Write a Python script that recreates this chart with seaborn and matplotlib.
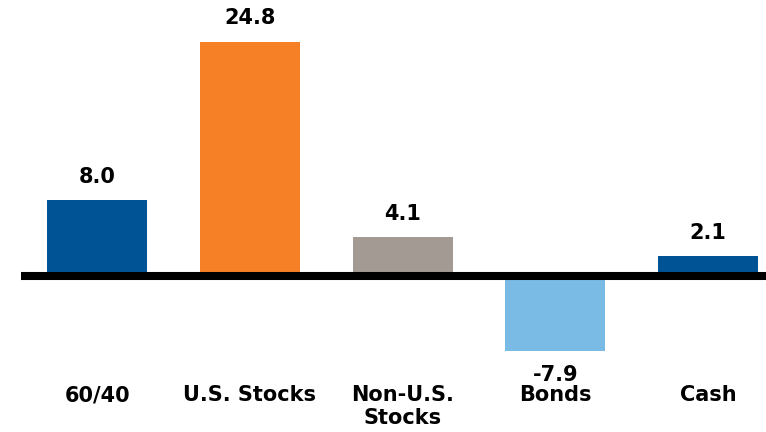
import pandas as pd
import matplotlib.pyplot as plt
import seaborn as sns

# data
categories = ["60/40", "U.S. Stocks", "Non-U.S.\nStocks", "Bonds", "Cash"]
returns = [8.0, 24.8, 4.1, -7.9, 2.1]
value_labels = ["8.0", "24.8", "4.1", "-7.9", "2.1"]
colors = ["#005495", "#F58025", "#A39A94", "#7ABBE5", "#005495"]

df = pd.DataFrame({"category": categories, "value": returns})

sns.set_theme(style="white")
plt.rcParams["font.family"] = ["DejaVu Sans"]

fig = plt.figure(figsize=(7.66, 4.32), dpi=100)
ax = fig.add_axes([21 / 766, 0, 1 - 21 / 766, 1])

sns.barplot(data=df, x="category", y="value", hue="category", palette=colors,
            dodge=False, legend=False, saturation=1, width=0.655,
            linewidth=0, ax=ax)

# thick zero line
ax.axhline(0, color="black", lw=5.8, zorder=5)

ax.set_xlim(-0.5, 4.38)
ax.set_ylim(-16.51, 29.21)

# value labels
for i, (v, lab) in enumerate(zip(returns, value_labels)):
    if v >= 0:
        ax.annotate(lab, (i, v), xytext=(0, 9.5), textcoords="offset points",
                    ha="center", va="bottom", fontsize=15, fontweight="bold",
                    color="black")
    else:
        ax.annotate(lab, (i, v), xytext=(0, -10), textcoords="offset points",
                    ha="center", va="top", fontsize=15, fontweight="bold",
                    color="black")

# category labels under the chart
for i, cat in enumerate(categories):
    ax.text(i, -11.55, cat, ha="center", va="top", fontsize=15,
            fontweight="bold", linespacing=1.2, color="black")

ax.set_xticks([])
ax.set_yticks([])
ax.set_xlabel("")
ax.set_ylabel("")
sns.despine(ax=ax, left=True, bottom=True)

fig.savefig("out.png", dpi=100)
